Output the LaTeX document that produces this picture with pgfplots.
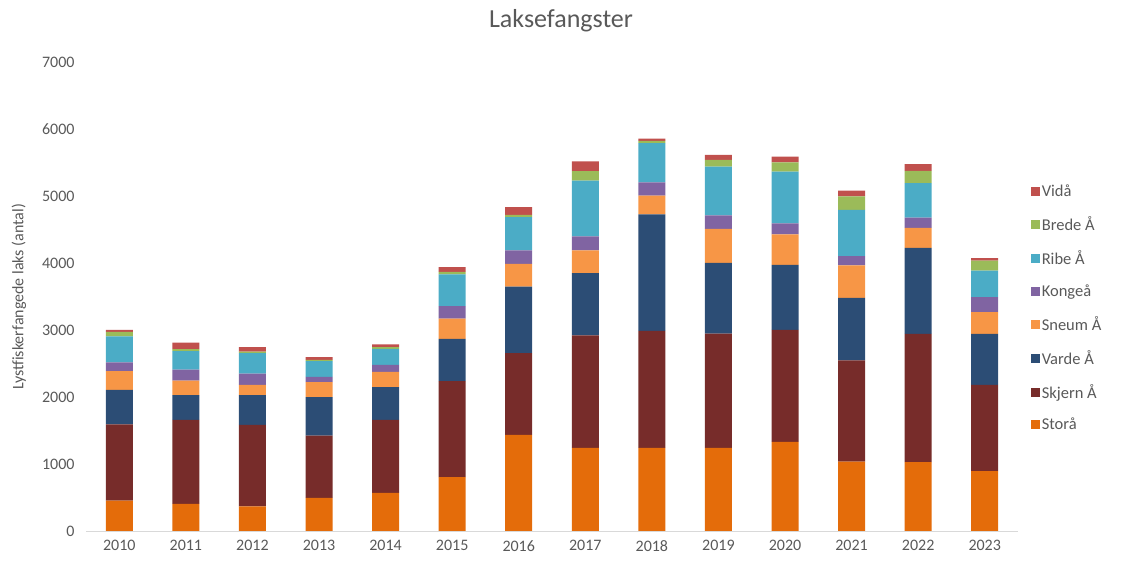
\documentclass[border=0pt]{standalone}
\usepackage{fontspec}
\setmainfont{Carlito}
\usepackage{pgfplots}
\usepackage{pgfplotstable}
\pgfplotsset{compat=1.18}
\definecolor{cStora}{HTML}{E46C0A}
\definecolor{cSkjern}{HTML}{772C2A}
\definecolor{cVarde}{HTML}{2C4D75}
\definecolor{cSneum}{HTML}{F79646}
\definecolor{cKongea}{HTML}{8064A2}
\definecolor{cRibe}{HTML}{4BACC6}
\definecolor{cBrede}{HTML}{9BBB59}
\definecolor{cVida}{HTML}{C0504D}
\definecolor{cText}{HTML}{595959}
\definecolor{cAxis}{HTML}{D9D9D9}
\pgfplotstableread{
x Stora Skjern Varde Sneum Kongea Ribe Brede Vida
0  455 1135  517 278 130 388  70  30
1  405 1255  367 219 164 274  30  99
2  366 1219  442 155 168 304  25  65
3  495  930  572 224  80 233  21  39
4  570 1090  486 230 104 239  25  40
5  803 1433  630 304 188 473  35  74
6 1436 1218  995 339 199 497  35 114
7 1242 1676  930 339 209 835 139 145
8 1242 1745 1740 279 198 587  30  35
9 1242 1705 1056 507 199 731 100  75
10 1331 1670  970 457 164 772 138  86
11 1037 1508  936 482 138 693 199  89
12 1027 1916 1284 298 154 512 185  99
13  893 1289  761 323 224 398 149  35
}\data
\begin{document}
\begin{tikzpicture}
\path[use as bounding box] (0,0) rectangle (1124bp,562bp);
\begin{axis}[
  at={(86bp,31bp)}, anchor=south west,
  scale only axis, width=932bp, height=469bp,
  ybar stacked, bar width=27bp,
  xmin=-0.5, xmax=13.5, ymin=0, ymax=7000,
  xtick=data,
  xticklabels={2010,2011,2012,2013,2014,2015,2016,2017,2018,2019,2020,2021,2022,2023},
  ytick={0,1000,2000,3000,4000,5000,6000,7000},
  axis x line*=bottom, axis y line*=left,
  x axis line style={draw=cAxis, line width=1bp, -},
  y axis line style={draw=none},
  major tick length=0pt,
  tick label style={font=\fontsize{16bp}{18bp}\selectfont, text=cText},
  /pgf/number format/assume math mode=true,
  /pgf/number format/1000 sep={},
  yticklabel style={xshift=-8bp},
  xticklabel style={yshift=-6bp},
  reverse legend,
  legend cell align=left,
  legend style={draw=none, fill=none, at={(1.0135,0.742)}, anchor=north west,
    font=\fontsize{16.5bp}{18bp}\selectfont, text=cText,
    row sep=14.5bp, inner sep=0pt},
  legend image code/.code={\fill[#1] (0bp,-4.5bp) rectangle (9bp,4.5bp);},
  every axis plot/.append style={draw=none},
]
\addplot[fill=cStora] table[x=x,y=Stora]{\data};
\addlegendentry{Storå}
\addplot[fill=cSkjern] table[x=x,y=Skjern]{\data};
\addlegendentry{Skjern Å}
\addplot[fill=cVarde] table[x=x,y=Varde]{\data};
\addlegendentry{Varde Å}
\addplot[fill=cSneum] table[x=x,y=Sneum]{\data};
\addlegendentry{Sneum Å}
\addplot[fill=cKongea] table[x=x,y=Kongea]{\data};
\addlegendentry{Kongeå}
\addplot[fill=cRibe] table[x=x,y=Ribe]{\data};
\addlegendentry{Ribe Å}
\addplot[fill=cBrede] table[x=x,y=Brede]{\data};
\addlegendentry{Brede Å}
\addplot[fill=cVida] table[x=x,y=Vida]{\data};
\addlegendentry{Vidå}
\end{axis}
\node[text=cText, font=\fontsize{26bp}{30bp}\selectfont] at (561bp,541bp) {Laksefangster};
\node[text=cText, rotate=90, font=\fontsize{16bp}{18bp}\selectfont] at (19bp,265bp) {Lystfiskerfangede laks (antal)};
\end{tikzpicture}
\end{document}
